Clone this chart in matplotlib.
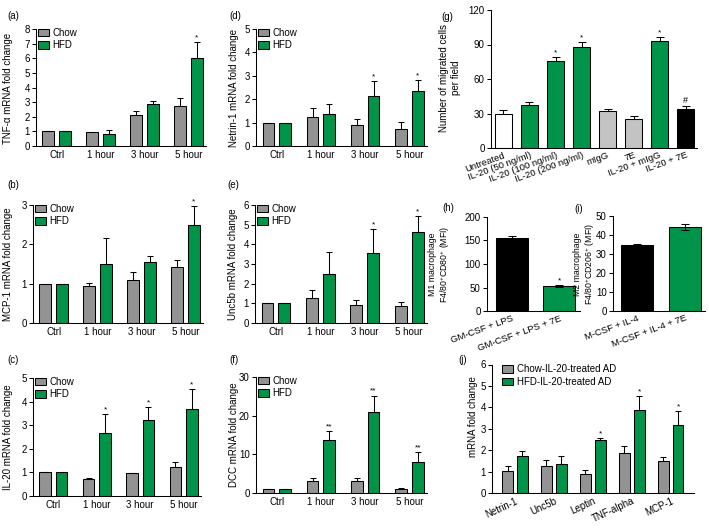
import numpy as np
import matplotlib
matplotlib.use("Agg")
import matplotlib.pyplot as plt
from matplotlib.patches import Patch

plt.rcParams['font.family'] = ['Liberation Sans', 'DejaVu Sans']
plt.rcParams['mathtext.default'] = 'regular'

# ---------------- data ----------------
time_groups = ['Ctrl', '1 hour', '3 hour', '5 hour']

tnf_chow = [1.0, 0.95, 2.13, 2.74]
tnf_chow_err = [0.0, 0.03, 0.28, 0.53]
tnf_hfd = [1.0, 0.80, 2.90, 6.01]
tnf_hfd_err = [0.0, 0.26, 0.20, 1.08]
tnf_stars = ['', '', '', '*']

mcp_chow = [1.0, 0.93, 1.10, 1.43]
mcp_chow_err = [0.0, 0.09, 0.20, 0.18]
mcp_hfd = [1.0, 1.51, 1.55, 2.48]
mcp_hfd_err = [0.0, 0.64, 0.16, 0.49]
mcp_stars = ['', '', '', '*']

il20_chow = [1.0, 0.71, 0.97, 1.24]
il20_chow_err = [0.0, 0.07, 0.02, 0.21]
il20_hfd = [1.0, 2.68, 3.20, 3.68]
il20_hfd_err = [0.0, 0.80, 0.56, 0.87]
il20_stars = ['', '*', '*', '*']

netrin_chow = [1.0, 1.26, 0.90, 0.73]
netrin_chow_err = [0.0, 0.35, 0.26, 0.28]
netrin_hfd = [1.0, 1.37, 2.14, 2.37]
netrin_hfd_err = [0.0, 0.42, 0.65, 0.44]
netrin_stars = ['', '', '*', '*']

unc5b_chow = [1.0, 1.29, 0.94, 0.85]
unc5b_chow_err = [0.0, 0.41, 0.25, 0.22]
unc5b_hfd = [1.0, 2.48, 3.54, 4.64]
unc5b_hfd_err = [0.0, 1.14, 1.24, 0.82]
unc5b_stars = ['', '', '*', '*']

dcc_chow = [1.0, 3.2, 3.2, 1.1]
dcc_chow_err = [0.0, 0.8, 0.8, 0.1]
dcc_hfd = [1.0, 13.7, 21.0, 8.1]
dcc_hfd_err = [0.0, 2.3, 4.2, 2.4]
dcc_stars = ['', '**', '**', '**']

mig_labels = ['Untreated', 'IL-20 (50 ng/ml)', 'IL-20 (100 ng/ml)', 'IL-20 (200 ng/ml)',
              'mIgG', '7E', 'IL-20 + mIgG', 'IL-20 + 7E']
mig_values = [29.8, 37.0, 75.8, 88.2, 31.8, 25.2, 93.4, 33.8]
mig_err = [2.9, 3.0, 2.9, 4.3, 2.0, 2.6, 2.9, 2.9]
mig_marks = ['', '', '*', '*', '', '', '*', '#']

m1_labels = ['GM-CSF + LPS', 'GM-CSF + LPS + 7E']
m1_values = [155, 53]
m1_err = [4, 2.5]
m1_marks = ['', '*']

m2_labels = ['M-CSF + IL-4', 'M-CSF + IL-4 + 7E']
m2_values = [34.6, 44.2]
m2_err = [0.9, 1.8]

ad_genes = ['Netrin-1', 'Unc5b', 'Leptin', 'TNF-alpha', 'MCP-1']
ad_chow = [1.01, 1.24, 0.88, 1.86, 1.50]
ad_chow_err = [0.23, 0.28, 0.20, 0.35, 0.17]
ad_hfd = [1.75, 1.36, 2.48, 3.87, 3.17]
ad_hfd_err = [0.22, 0.39, 0.07, 0.67, 0.67]
ad_stars = ['', '', '*', '*', '*']

# ---------------- style ----------------
W, H = 709, 528
GRAY = '#939393'
GREEN = '#00934a'
LGRAY = '#c3c3c3'
FS = 7
LW = 0.75

fig = plt.figure(figsize=(W / 100, H / 100), dpi=100)


def add_ax(l, r, t, b):
    ax = fig.add_axes([l / W, 1 - b / H, (r - l) / W, (b - t) / H])
    ax.spines['top'].set_visible(False)
    ax.spines['right'].set_visible(False)
    ax.spines['left'].set_linewidth(LW)
    ax.spines['bottom'].set_linewidth(LW)
    ax.tick_params(axis='y', length=3, width=LW, labelsize=FS, pad=1.5)
    ax.tick_params(axis='x', length=0, labelsize=FS, pad=3)
    return ax


def ftext(x, y, s, **kw):
    fig.text(x / W, 1 - y / H, s, **kw)


def mark(ax, x, y, s, size=6):
    if s:
        ax.annotate(s, (x, y), xytext=(0, 0.5), textcoords='offset points',
                    ha='center', va='bottom', fontsize=size)


def legend2(ax, labels, anchor):
    ax.legend(handles=[Patch(facecolor=GRAY, edgecolor='black', linewidth=LW, label=labels[0]),
                       Patch(facecolor=GREEN, edgecolor='black', linewidth=LW, label=labels[1])],
              loc='upper left', bbox_to_anchor=anchor, frameon=False, fontsize=FS,
              handlelength=1.15, handleheight=0.85, handletextpad=0.35,
              labelspacing=0.25, borderaxespad=0, borderpad=0)


def time_panel(l, r, t, b, chow, chow_err, hfd, hfd_err, stars, ymax, yticks):
    ax = add_ax(l, r, t, b)
    x = np.arange(len(time_groups))
    off, w = 0.19, 0.265
    ax.bar(x - off, chow, w, color=GRAY, edgecolor='black', linewidth=LW)
    ax.bar(x + off, hfd, w, color=GREEN, edgecolor='black', linewidth=LW)
    z = np.zeros(len(x))
    ax.errorbar(x - off, chow, yerr=[z, chow_err], fmt='none', ecolor='black',
                elinewidth=LW, capsize=2.3, capthick=LW)
    ax.errorbar(x + off, hfd, yerr=[z, hfd_err], fmt='none', ecolor='black',
                elinewidth=LW, capsize=2.3, capthick=LW)
    for xi, v, e, s in zip(x, hfd, hfd_err, stars):
        mark(ax, xi + off, v + e, s)
    ax.set_xlim(-0.47, 3.40)
    ax.set_ylim(0, ymax)
    ax.set_yticks(yticks)
    ax.set_xticks(x)
    ax.set_xticklabels(time_groups)
    legend2(ax, ['Chow', 'HFD'], (0.01, 1.01))
    return ax


# (a)-(f)
time_panel(36, 206, 29, 146, tnf_chow, tnf_chow_err, tnf_hfd, tnf_hfd_err, tnf_stars, 8, range(0, 9))
time_panel(33, 203, 205, 323, mcp_chow, mcp_chow_err, mcp_hfd, mcp_hfd_err, mcp_stars, 3, range(0, 4))
time_panel(33, 201, 378, 496, il20_chow, il20_chow_err, il20_hfd, il20_hfd_err, il20_stars, 5, range(0, 6))
time_panel(256, 427, 29, 146, netrin_chow, netrin_chow_err, netrin_hfd, netrin_hfd_err, netrin_stars, 5, range(0, 6))
time_panel(255, 427, 205, 323, unc5b_chow, unc5b_chow_err, unc5b_hfd, unc5b_hfd_err, unc5b_stars, 6, range(0, 7))
time_panel(256, 427, 377, 493, dcc_chow, dcc_chow_err, dcc_hfd, dcc_hfd_err, dcc_stars, 30, [0, 10, 20, 30])

ylab_kw = dict(rotation=90, ha='center', va='center', fontsize=FS)
ftext(8, 88, 'TNF-α mRNA fold change', **ylab_kw)
ftext(8, 264, 'MCP-1 mRNA fold change', **ylab_kw)
ftext(8, 437, 'IL-20 mRNA fold change', **ylab_kw)
ftext(234, 88, 'Netrin-1 mRNA fold change', **ylab_kw)
ftext(233, 264, 'Unc5b mRNA fold change', **ylab_kw)
ftext(234, 435, 'DCC mRNA fold change', **ylab_kw)

# (g)
ax = add_ax(491, 697, 10, 148)
x = np.arange(len(mig_labels))
gcols = ['white', GREEN, GREEN, GREEN, LGRAY, LGRAY, GREEN, 'black']
ax.bar(x, mig_values, 0.67, color=gcols, edgecolor='black', linewidth=LW)
ax.errorbar(x, mig_values, yerr=[np.zeros(len(x)), mig_err], fmt='none', ecolor='black',
            elinewidth=LW, capsize=3.2, capthick=LW)
for xi, v, e, s in zip(x, mig_values, mig_err, mig_marks):
    mark(ax, xi, v + e, s, size=6 if s == '*' else 6.5)
ax.set_xlim(-0.48, 7.44)
ax.set_ylim(0, 120)
ax.set_yticks([0, 30, 60, 90, 120])
ax.set_xticks(x)
ax.set_xticklabels(mig_labels, rotation=20, ha='right', va='top', rotation_mode='anchor', fontsize=6.8)
ax.tick_params(axis='x', pad=2)
ftext(450, 78, 'Number of migrated cells\nper field', ha='center', va='center', rotation=90,
      fontsize=FS, linespacing=1.15)

# (h)
ax = add_ax(487, 580, 217, 311)
x = np.arange(2)
ax.bar(x, m1_values, 0.67, color=['black', GREEN], edgecolor='black', linewidth=LW)
ax.errorbar(x, m1_values, yerr=m1_err, fmt='none', ecolor='black', elinewidth=LW,
            capsize=3.2, capthick=LW)
for xi, v, e, s in zip(x, m1_values, m1_err, m1_marks):
    mark(ax, xi, v + e, s)
ax.set_xlim(-0.52, 1.44)
ax.set_ylim(0, 200)
ax.set_yticks([0, 50, 100, 150, 200])
ax.set_xticks(x)
ax.set_xticklabels(m1_labels, rotation=20, ha='right', va='top', rotation_mode='anchor', fontsize=6.8)
ax.tick_params(axis='x', pad=2)
ftext(440, 264, 'M1 macrophage\nF4/80$^{+}$CD80$^{+}$ (MFI)', ha='center', va='center',
      rotation=90, fontsize=6.3, linespacing=1.05)

# (i)
ax = add_ax(613, 705, 216, 311)
ax.bar(x, m2_values, 0.67, color=['black', GREEN], edgecolor='black', linewidth=LW)
ax.errorbar(x, m2_values, yerr=m2_err, fmt='none', ecolor='black', elinewidth=LW,
            capsize=3.2, capthick=LW)
ax.set_xlim(-0.5, 1.42)
ax.set_ylim(0, 50)
ax.set_yticks([0, 10, 20, 30, 40, 50])
ax.set_xticks(x)
ax.set_xticklabels(m2_labels, rotation=20, ha='right', va='top', rotation_mode='anchor', fontsize=6.8)
ax.tick_params(axis='x', pad=2)
ftext(585, 264, 'M2 macrophage\nF4/80$^{+}$CD206$^{+}$ (MFI)', ha='center', va='center',
      rotation=90, fontsize=6.3, linespacing=1.05)

# (j)
ax = add_ax(492, 694, 364.5, 493)
x = np.arange(len(ad_genes))
off, w = 0.19, 0.28
ax.bar(x - off, ad_chow, w, color=GRAY, edgecolor='black', linewidth=LW)
ax.bar(x + off, ad_hfd, w, color=GREEN, edgecolor='black', linewidth=LW)
z = np.zeros(len(x))
ax.errorbar(x - off, ad_chow, yerr=[z, ad_chow_err], fmt='none', ecolor='black',
            elinewidth=LW, capsize=2.3, capthick=LW)
ax.errorbar(x + off, ad_hfd, yerr=[z, ad_hfd_err], fmt='none', ecolor='black',
            elinewidth=LW, capsize=2.3, capthick=LW)
for xi, v, e, s in zip(x, ad_hfd, ad_hfd_err, ad_stars):
    mark(ax, xi + off, v + e, s)
ax.set_xlim(-0.59, 4.6)
ax.set_ylim(0, 6)
ax.set_yticks(range(0, 7))
ax.set_xticks(x)
ax.set_xticklabels(ad_genes, rotation=25, ha='right', va='top', rotation_mode='anchor', fontsize=7)
ax.tick_params(axis='x', pad=2)
legend2(ax, ['Chow-IL-20-treated AD', 'HFD-IL-20-treated AD'], (0.05, 1.0))
ftext(473, 417, 'mRNA fold change', **ylab_kw)

# panel letters
for lab, px, py in [('(a)', 13, 16), ('(b)', 13, 185), ('(c)', 13, 360),
                    ('(d)', 235, 16), ('(e)', 233, 185), ('(f)', 234, 360),
                    ('(g)', 447, 17), ('(h)', 448, 208), ('(i)', 579, 209), ('(j)', 463, 360)]:
    ftext(px, py, lab, ha='center', va='center', fontsize=FS)

fig.savefig('out.png', dpi=100)
